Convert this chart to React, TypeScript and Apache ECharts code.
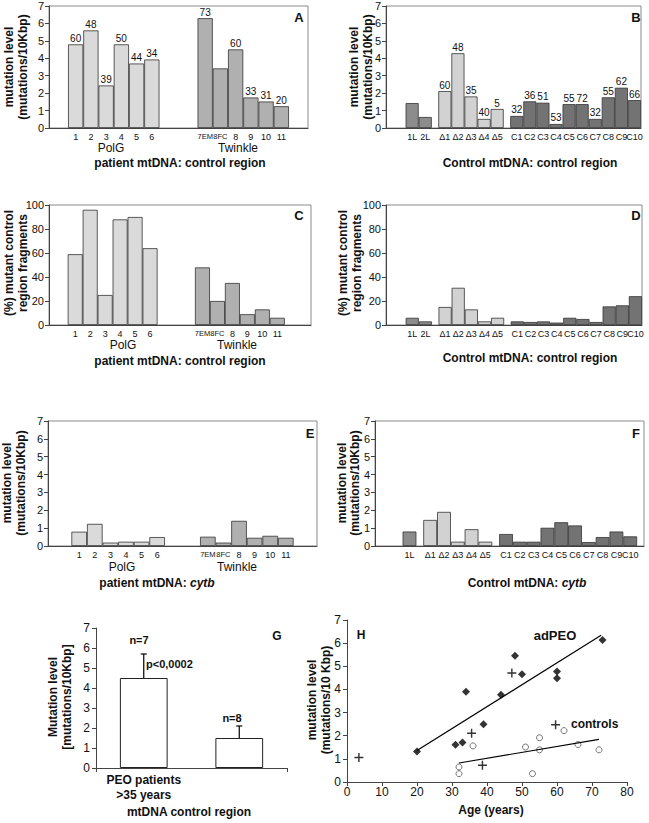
import React, { useEffect, useRef } from 'react';
import * as echarts from 'echarts';

const FONT = '"Liberation Sans", Arial, Helvetica, sans-serif';
const INK = '#111';
const AXIS = '#444';

// ---------- Panel A: patient mtDNA, control region (mutations/10Kbp) ----------
const polgLabels = ['1', '2', '3', '4', '5', '6'];
const twinkleLabels = ['7EM', '8FC', '8', '9', '10', '11'];
const aPolgLevels = [4.8, 5.6, 2.44, 4.8, 3.7, 3.93];
const aPolgClones = [60, 48, 39, 50, 44, 34];
const aTwinkleLevels = [6.3, 3.42, 4.51, 1.75, 1.52, 1.25];
const aTwinkleClones = [73, null, 60, 33, 31, 20];

// ---------- Panel B: control mtDNA, control region ----------
const lLabels = ['1L', '2L'];
const deltaLabels = ['Δ1', 'Δ2', 'Δ3', 'Δ4', 'Δ5'];
const cLabels = ['C1', 'C2', 'C3', 'C4', 'C5', 'C6', 'C7', 'C8', 'C9', 'C10'];
const bLLevels = [1.43, 0.63];
const bDeltaLevels = [2.12, 4.29, 1.81, 0.52, 1.09];
const bDeltaClones = [60, 48, 35, 40, 5];
const bCLevels = [0.69, 1.53, 1.45, 0.23, 1.37, 1.37, 0.52, 1.76, 2.31, 1.6];
const bCClones = [32, 36, 51, 53, 55, 72, 32, 55, 62, 66];

// ---------- Panel C: % mutant control region fragments (patients) ----------
const cPolgPercent = [59, 96, 25, 88, 90, 64];
const cTwinklePercent = [48, 20, 35, 9, 13, 6];

// ---------- Panel D: % mutant control region fragments (controls) ----------
const dLPercent = [6, 3];
const dDeltaPercent = [15, 31, 13, 3, 6];
const dCPercent = [3, 2.5, 3, 2, 6, 5, 2.5, 15.5, 16.4, 24];

// ---------- Panel E: patient mtDNA, cytb ----------
const ePolgLevels = [0.8, 1.24, 0.19, 0.24, 0.24, 0.5];
const eTwinkleLevels = [0.52, 0.19, 1.41, 0.46, 0.57, 0.46];

// ---------- Panel F: control mtDNA, cytb ----------
const fLLabels = ['1L'];
const fLLevels = [0.81];
const fDeltaLevels = [1.46, 1.91, 0.24, 0.94, 0.24];
const fCLevels = [0.67, 0.24, 0.24, 1.02, 1.33, 1.15, 0.22, 0.5, 0.81, 0.54];

// ---------- Panel G ----------
const gCategories = ['PEO patients\n>35 years', 'Controls\n> 35 years'];
const gMeans = [4.5, 1.5];
const gLow = [3.2, 0.7];
const gHigh = [5.7, 2.1];
const gCounts = ['n=7', 'n=8'];

// ---------- Panel H ----------
const adpeoAges = [20, 31, 33, 34, 39, 44, 48, 50, 60, 60, 73];
const adpeoLevels = [1.32, 1.61, 1.71, 3.9, 2.5, 3.77, 5.45, 4.66, 4.78, 4.48, 6.14];
const crossAges = [3.4, 35.6, 38.7, 47.1, 59.6];
const crossLevels = [1.06, 2.11, 0.72, 4.71, 2.47];
const controlAges = [32, 32, 36, 51, 53, 55, 55, 62, 66, 72];
const controlLevels = [0.65, 0.36, 1.56, 1.51, 0.36, 1.91, 1.39, 2.22, 1.62, 1.39];
const adpeoTrendAges = [20, 72.6];
const adpeoTrendLevels = [1.36, 6.34];
const controlTrendAges = [32, 72];
const controlTrendLevels = [0.82, 1.84];

const COL = {
  polg: '#dadada',
  twinkle: '#b0b0b0',
  l: '#8c8c8c',
  delta: '#d2d2d2',
  c: '#737373',
};

type Group = { labels: string[]; values: number[]; clones?: (number | null)[]; color: string; start: number };
type Rect = { left: number; top: number; width: number; height: number };

const key = (v: number) => (Math.round(v * 4) / 4).toFixed(2);

function barPanel(i: number, rect: Rect, xMin: number, xMax: number, yMax: number, yStep: number, groups: Group[]) {
  const unit = rect.width / (xMax - xMin);
  const labelMap: Record<string, string> = {};
  const data: any[] = [];
  groups.forEach((g) =>
    g.values.forEach((v, k) => {
      const pos = g.start + k;
      labelMap[key(pos)] = g.labels[k];
      const c = g.clones ? g.clones[k] : null;
      data.push({
        value: [pos, v],
        itemStyle: { color: g.color },
        label: { show: c != null, formatter: c != null ? String(c) : '' },
      });
    })
  );
  return {
    grid: { ...rect, show: true, borderColor: '#8a8a8a', borderWidth: 1, backgroundColor: 'transparent' },
    xAxis: {
      type: 'value',
      gridIndex: i,
      min: xMin,
      max: xMax,
      interval: 0.25,
      axisLine: { show: true, onZero: false, lineStyle: { color: AXIS, width: 1 } },
      axisTick: { show: false },
      splitLine: { show: false },
      axisLabel: {
        fontSize: 9,
        fontFamily: FONT,
        color: INK,
        margin: 4,
        showMinLabel: true,
        showMaxLabel: true,
        formatter: (v: number) => {
          const s = labelMap[key(v)];
          if (!s) return '';
          return /[A-Z]{2}$/.test(s) ? `{t|${s}}` : s;
        },
        rich: { t: { fontSize: 7.5, fontFamily: FONT, color: INK } },
      },
    },
    yAxis: {
      type: 'value',
      gridIndex: i,
      min: 0,
      max: yMax,
      interval: yStep,
      axisLine: { show: true, onZero: false, lineStyle: { color: AXIS, width: 1 } },
      axisTick: { show: true, length: 4, lineStyle: { color: AXIS } },
      splitLine: { show: false },
      axisLabel: { fontSize: 11, fontFamily: FONT, color: INK, margin: 5 },
    },
    series: {
      type: 'bar',
      xAxisIndex: i,
      yAxisIndex: i,
      barWidth: unit,
      data,
      silent: true,
      itemStyle: { borderColor: '#333', borderWidth: 0.8 },
      label: { position: 'top', distance: 1, fontSize: 10, fontFamily: FONT, color: INK },
    },
  };
}

const txt = (
  text: string,
  x: number,
  y: number,
  o: { size?: number; bold?: boolean; align?: string; rot?: number; lh?: number; rich?: any } = {}
) => ({
  type: 'text',
  x,
  y,
  rotation: o.rot || 0,
  silent: true,
  style: {
    text,
    font: `${o.bold ? 'bold ' : ''}${o.size || 12}px ${FONT}`,
    fill: INK,
    textAlign: o.align || 'center',
    textVerticalAlign: 'middle',
    lineHeight: o.lh || (o.size || 12) + 2,
    rich: o.rich,
  },
});

const richCytb = {
  a: { fontFamily: FONT, fontSize: 12, fontWeight: 'bold', fill: INK },
  b: { fontFamily: FONT, fontSize: 12, fontWeight: 'bold', fontStyle: 'italic', fill: INK },
};

export default function App() {
  const ref = useRef<HTMLDivElement>(null);
  useEffect(() => {
    if (!ref.current) return;
    const chart = echarts.init(ref.current, undefined, { renderer: 'svg' });

    const panels = [
      barPanel(0, { left: 49, top: 6, width: 259, height: 122 }, -0.75, 16.25, 7, 1, [
        { labels: polgLabels, values: aPolgLevels, clones: aPolgClones, color: COL.polg, start: 1 },
        { labels: twinkleLabels, values: aTwinkleLevels, clones: aTwinkleClones, color: COL.twinkle, start: 9.5 },
      ]),
      barPanel(1, { left: 386, top: 6, width: 255, height: 122 }, 0, 19.5, 7, 1, [
        { labels: lLabels, values: bLLevels, color: COL.l, start: 2 },
        { labels: deltaLabels, values: bDeltaLevels, clones: bDeltaClones, color: COL.delta, start: 4.5 },
        { labels: cLabels, values: bCLevels, clones: bCClones, color: COL.c, start: 10 },
      ]),
      barPanel(2, { left: 49, top: 205, width: 262, height: 120 }, -0.75, 16.75, 100, 20, [
        { labels: polgLabels, values: cPolgPercent, color: COL.polg, start: 1 },
        { labels: twinkleLabels, values: cTwinklePercent, color: COL.twinkle, start: 9.5 },
      ]),
      barPanel(3, { left: 386, top: 205, width: 256, height: 120 }, 0, 19.5, 100, 20, [
        { labels: lLabels, values: dLPercent, color: COL.l, start: 2 },
        { labels: deltaLabels, values: dDeltaPercent, color: COL.delta, start: 4.5 },
        { labels: cLabels, values: dCPercent, color: COL.c, start: 10 },
      ]),
      barPanel(4, { left: 48, top: 421, width: 269, height: 125 }, -1, 16.25, 7, 1, [
        { labels: polgLabels, values: ePolgLevels, color: COL.polg, start: 1 },
        { labels: twinkleLabels, values: eTwinkleLevels, color: COL.twinkle, start: 9.25 },
      ]),
      barPanel(5, { left: 375, top: 421, width: 269, height: 125 }, 0, 19.5, 7, 1, [
        { labels: fLLabels, values: fLLevels, color: COL.l, start: 2.5 },
        { labels: deltaLabels, values: fDeltaLevels, color: COL.delta, start: 4 },
        { labels: cLabels, values: fCLevels, color: COL.c, start: 9.5 },
      ]),
    ];

    const grids: any[] = panels.map((p) => p.grid);
    const xAxes: any[] = panels.map((p) => p.xAxis);
    const yAxes: any[] = panels.map((p) => p.yAxis);
    const series: any[] = panels.map((p) => p.series);

    // Panel G
    grids.push({ left: 96, top: 628, width: 191, height: 140 });
    xAxes.push({
      type: 'category',
      gridIndex: 6,
      data: gCategories,
      axisLine: { show: true, lineStyle: { color: AXIS } },
      axisTick: { show: true, length: 4, lineStyle: { color: AXIS } },
      axisLabel: { fontSize: 12, fontWeight: 'bold', fontFamily: FONT, color: INK, lineHeight: 15, margin: 4 },
    });
    yAxes.push({
      type: 'value',
      gridIndex: 6,
      min: 0,
      max: 7,
      interval: 1,
      axisLine: { show: true, onZero: false, lineStyle: { color: AXIS } },
      axisTick: { show: true, length: 4, lineStyle: { color: AXIS } },
      splitLine: { show: false },
      axisLabel: { fontSize: 12, fontFamily: FONT, color: INK, margin: 6 },
    });
    series.push({
      type: 'bar',
      xAxisIndex: 6,
      yAxisIndex: 6,
      barWidth: '50%',
      silent: true,
      data: gMeans,
      itemStyle: { color: '#ffffff', borderColor: '#222', borderWidth: 1 },
    });
    series.push({
      type: 'custom',
      xAxisIndex: 6,
      yAxisIndex: 6,
      silent: true,
      data: gMeans.map((_, k) => [k, gLow[k], gHigh[k]]),
      renderItem: (_p: any, api: any) => {
        const lo = api.coord([api.value(0), api.value(1)]);
        const hi = api.coord([api.value(0), api.value(2)]);
        const s = { stroke: '#000', lineWidth: 1.2 };
        const cap = 3;
        return {
          type: 'group',
          children: [
            { type: 'line', shape: { x1: lo[0], y1: lo[1], x2: hi[0], y2: hi[1] }, style: s },
            { type: 'line', shape: { x1: lo[0] - cap, y1: lo[1], x2: lo[0] + cap, y2: lo[1] }, style: s },
            { type: 'line', shape: { x1: hi[0] - cap, y1: hi[1], x2: hi[0] + cap, y2: hi[1] }, style: s },
          ],
        };
      },
    });

    // Panel H
    grids.push({ left: 347, top: 620, width: 280, height: 162 });
    xAxes.push({
      type: 'value',
      gridIndex: 7,
      min: 0,
      max: 80,
      interval: 10,
      axisLine: { show: true, onZero: false, lineStyle: { color: AXIS } },
      axisTick: { show: true, length: 4, lineStyle: { color: AXIS } },
      splitLine: { show: false },
      axisLabel: { fontSize: 12, fontFamily: FONT, color: INK, margin: 4 },
    });
    yAxes.push({
      type: 'value',
      gridIndex: 7,
      min: 0,
      max: 7,
      interval: 1,
      axisLine: { show: true, onZero: false, lineStyle: { color: AXIS } },
      axisTick: { show: true, length: 4, lineStyle: { color: AXIS } },
      splitLine: { show: false },
      axisLabel: { fontSize: 12, fontFamily: FONT, color: INK, margin: 6 },
    });
    const zip = (a: number[], b: number[]) => a.map((v, k) => [v, b[k]]);
    series.push(
      {
        type: 'line',
        xAxisIndex: 7,
        yAxisIndex: 7,
        silent: true,
        symbol: 'none',
        data: zip(adpeoTrendAges, adpeoTrendLevels),
        lineStyle: { color: '#000', width: 1.2 },
      },
      {
        type: 'line',
        xAxisIndex: 7,
        yAxisIndex: 7,
        silent: true,
        symbol: 'none',
        data: zip(controlTrendAges, controlTrendLevels),
        lineStyle: { color: '#000', width: 1.2 },
      },
      {
        type: 'scatter',
        xAxisIndex: 7,
        yAxisIndex: 7,
        silent: true,
        symbol: 'diamond',
        symbolSize: 8,
        data: zip(adpeoAges, adpeoLevels),
        itemStyle: { color: '#000' },
      },
      {
        type: 'scatter',
        xAxisIndex: 7,
        yAxisIndex: 7,
        silent: true,
        symbol: 'path://M4.2,0 L5.8,0 L5.8,4.2 L10,4.2 L10,5.8 L5.8,5.8 L5.8,10 L4.2,10 L4.2,5.8 L0,5.8 L0,4.2 L4.2,4.2 Z',
        symbolSize: 9,
        data: zip(crossAges, crossLevels),
        itemStyle: { color: '#000' },
      },
      {
        type: 'scatter',
        xAxisIndex: 7,
        yAxisIndex: 7,
        silent: true,
        symbol: 'circle',
        symbolSize: 6,
        data: zip(controlAges, controlLevels),
        itemStyle: { color: '#ffffff', borderColor: '#555', borderWidth: 1 },
      }
    );

    const ynameLevel = 'mutation level\n(mutations/10Kbp)';
    const ynamePct = '(%) mutant control\nregion fragments';
    const R = Math.PI / 2;
    const elements: any[] = [
      // A
      txt('A', 299, 17, { bold: true, size: 13 }),
      txt(ynameLevel, 16, 67, { bold: true, rot: R, lh: 14 }),
      txt('PolG', 111, 148, { size: 12 }),
      txt('Twinkle', 238, 148, { size: 12 }),
      txt('patient mtDNA: control region', 180, 163, { bold: true }),
      // B
      txt('B', 636, 17, { bold: true, size: 13 }),
      txt(ynameLevel, 361, 67, { bold: true, rot: R, lh: 14 }),
      txt('Control mtDNA: control region', 530, 163, { bold: true }),
      // C
      txt('C', 299, 215, { bold: true, size: 13 }),
      txt(ynamePct, 16, 263, { bold: true, rot: R, lh: 14 }),
      txt('PolG', 123, 345, { size: 12 }),
      txt('Twinkle', 237, 345, { size: 12 }),
      txt('patient mtDNA: control region', 180, 361, { bold: true }),
      // D
      txt('D', 636, 215, { bold: true, size: 13 }),
      txt(ynamePct, 350, 263, { bold: true, rot: R, lh: 14 }),
      txt('Control mtDNA: control region', 530, 358, { bold: true }),
      // E
      txt('E', 310, 433, { bold: true, size: 13 }),
      txt(ynameLevel, 14, 483, { bold: true, rot: R, lh: 14 }),
      txt('PolG', 122, 567, { size: 12 }),
      txt('Twinkle', 237, 567, { size: 12 }),
      txt('{a|patient mtDNA: }{b|cytb}', 157, 583, { bold: true, rich: richCytb }),
      // F
      txt('F', 636, 433, { bold: true, size: 13 }),
      txt(ynameLevel, 348, 483, { bold: true, rot: R, lh: 13 }),
      txt('{a|Control mtDNA: }{b|cytb}', 527, 583, { bold: true, rich: richCytb }),
      // G
      txt('G', 277, 636, { bold: true, size: 12 }),
      txt('Mutation level\n[mutations/10Kbp]', 60, 697, { bold: true, rot: R, lh: 14 }),
      txt(gCounts[0], 139, 640, { bold: true, size: 11 }),
      txt('p<0,0002', 146, 664, { bold: true, size: 11, align: 'left' }),
      txt(gCounts[1], 232, 718, { bold: true, size: 11 }),
      txt('mtDNA control region', 189, 812, { bold: true }),
      // H
      txt('H', 361, 635, { bold: true, size: 12 }),
      txt('mutation level\n(mutations/10 Kbp)', 319, 700, { bold: true, rot: R, lh: 14 }),
      txt('adPEO', 555, 635, { bold: true, size: 13 }),
      txt('controls', 571, 724, { bold: true, size: 12, align: 'left' }),
      txt('Age (years)', 491, 810, { bold: true }),
    ];

    chart.setOption({
      animation: false,
      backgroundColor: '#ffffff',
      textStyle: { fontFamily: FONT },
      grid: grids,
      xAxis: xAxes,
      yAxis: yAxes,
      series,
      graphic: { elements },
    });
    return () => chart.dispose();
  }, []);

  return <div ref={ref} style={{ position: 'absolute', left: 0, top: 0, width: 649, height: 823 }} />;
}
